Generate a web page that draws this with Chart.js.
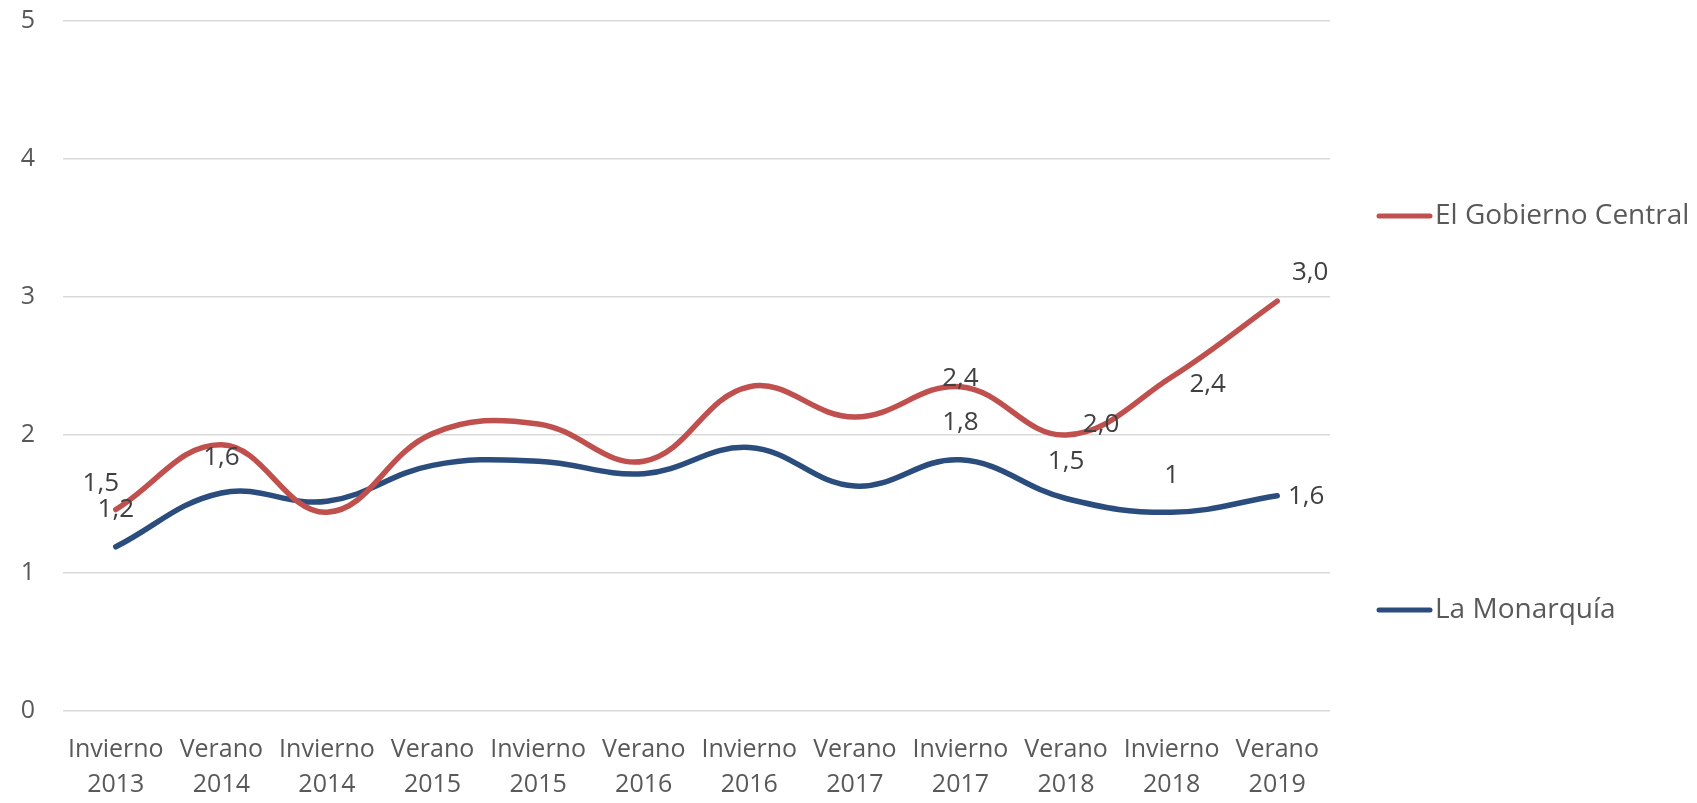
<!DOCTYPE html>
<html>
<head>
<meta charset="utf-8">
<script src="https://cdn.jsdelivr.net/npm/chart.js@4.4.1/dist/chart.umd.min.js"></script>
<style>
  html, body { margin: 0; padding: 0; background: #fff; }
  #wrap { width: 1697px; height: 803px; }
</style>
</head>
<body>
<div id="wrap"><canvas id="myChart" width="1697" height="803"></canvas></div>
<script>
// Categories (two-line labels)
const periods = [
    ['Invierno', '2013'], ['Verano', '2014'], ['Invierno', '2014'], ['Verano', '2015'],
    ['Invierno', '2015'], ['Verano', '2016'], ['Invierno', '2016'], ['Verano', '2017'],
    ['Invierno', '2017'], ['Verano', '2018'], ['Invierno', '2018'], ['Verano', '2019']
];

// Series values
const gobiernoCentral = [1.46, 1.93, 1.44, 2.01, 2.08, 1.81, 2.35, 2.13, 2.35, 2.00, 2.42, 2.97];
const monarquia       = [1.19, 1.58, 1.52, 1.78, 1.81, 1.72, 1.91, 1.63, 1.82, 1.54, 1.44, 1.56];

// Data label texts as shown (null = no label)
const gobiernoLabels  = ['1,5', null, null, null, null, null, null, null, '2,4', '2,0', '2,4', '3,0'];
const monarquiaLabels = ['1,2', '1,6', null, null, null, null, null, null, '1,8', '1,5', '1', '1,6'];

const yTicks = [0, 1, 2, 3, 4, 5];

const FONT = "'Open Sans', 'Noto Sans', sans-serif";

// pixel offsets of the hand-placed labels relative to their point
const labelOffsets = {
    0: { 0: [-15, -26], 8: [0, -8], 9: [35, -10], 10: [36, 8], 11: [33, -29] },
    1: { 0: [0, -37], 1: [0, -35], 8: [0, -37], 9: [0, -37], 10: [0, -37], 11: [29, 1] }
};

// Draws the free floating data labels
const dataLabelPlugin = {
    id: 'dataLabels',
    afterDatasetsDraw(chart) {
        const ctx = chart.ctx;
        ctx.save();
        ctx.font = '26px ' + FONT;
        ctx.fillStyle = '#404040';
        ctx.textAlign = 'center';
        ctx.textBaseline = 'middle';
        chart.data.datasets.forEach((ds, di) => {
            const meta = chart.getDatasetMeta(di);
            ds.pointLabels.forEach((txt, i) => {
                if (txt === null) return;
                const pt = meta.data[i];
                const off = (labelOffsets[di] && labelOffsets[di][i]) || [0, -25];
                ctx.fillText(txt, pt.x + off[0], pt.y + off[1]);
            });
        });
        ctx.restore();
    }
};

// Legend on the right, stacked with wide spacing like the original
const sideLegendPlugin = {
    id: 'sideLegend',
    afterDraw(chart) {
        const ctx = chart.ctx;
        const rows = [216, 610];
        ctx.save();
        ctx.font = '28px ' + FONT;
        ctx.textBaseline = 'middle';
        ctx.textAlign = 'left';
        chart.data.datasets.forEach((ds, i) => {
            const y = rows[i];
            ctx.strokeStyle = ds.borderColor;
            ctx.lineWidth = 5;
            ctx.lineCap = 'round';
            ctx.beginPath();
            ctx.moveTo(1379, y);
            ctx.lineTo(1430, y);
            ctx.stroke();
            ctx.fillStyle = '#595959';
            ctx.fillText(ds.label, 1435, y);
        });
        ctx.restore();
    }
};

const ctx = document.getElementById('myChart').getContext('2d');
const myChart = new Chart(ctx, {
    type: 'line',
    data: {
        labels: periods,
        datasets: [{
            label: 'El Gobierno Central',
            data: gobiernoCentral,
            pointLabels: gobiernoLabels,
            borderColor: '#C0504D',
            borderWidth: 5.5,
            borderCapStyle: 'round',
            tension: 0.4,
            pointRadius: 0,
            fill: false
        }, {
            label: 'La Monarquía',
            data: monarquia,
            pointLabels: monarquiaLabels,
            borderColor: '#2A4D7D',
            borderWidth: 5.5,
            borderCapStyle: 'round',
            tension: 0.4,
            pointRadius: 0,
            fill: false
        }]
    },
    options: {
        responsive: false,
        animation: false,
        layout: {
            padding: { top: 21, right: 367, left: 0, bottom: 0 }
        },
        plugins: {
            legend: { display: false },
            tooltip: { enabled: false }
        },
        scales: {
            x: {
                offset: true,
                grid: { display: false },
                border: { display: false },
                ticks: {
                    color: '#595959',
                    font: { family: FONT, size: 25, lineHeight: 1.4 },
                    padding: 13,
                    maxRotation: 0,
                    autoSkip: false
                },
                afterFit(scale) { scale.height = 92; }
            },
            y: {
                min: 0,
                max: 5,
                afterBuildTicks(scale) { scale.ticks = yTicks.map(v => ({ value: v })); },
                grid: { color: '#D9D9D9', lineWidth: 1.5, drawTicks: false },
                border: { display: false },
                ticks: {
                    color: '#595959',
                    font: { family: FONT, size: 25 },
                    padding: 28
                },
                afterFit(scale) {
                    scale.width = 63;
                    scale.paddingTop = 0;
                    scale.paddingBottom = 0;
                }
            }
        }
    },
    plugins: [dataLabelPlugin, sideLegendPlugin]
});
</script>
</body>
</html>
